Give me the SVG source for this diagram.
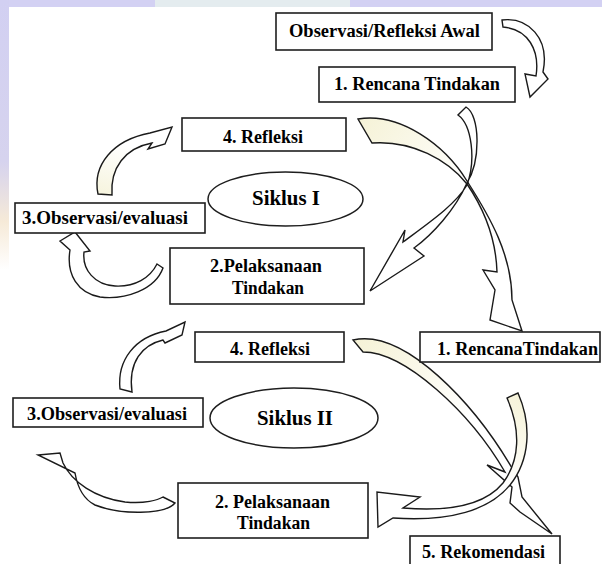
<svg xmlns="http://www.w3.org/2000/svg" width="602" height="564" viewBox="0 0 602 564">
<defs>
<linearGradient id="gTL" x1="0" y1="0" x2="0.5" y2="0.5"><stop offset="0" stop-color="#f5f2d6"/><stop offset="1" stop-color="#ffffff"/></linearGradient>
<linearGradient id="gTR" x1="1" y1="0" x2="0.6" y2="0.5"><stop offset="0" stop-color="#f5f2d6"/><stop offset="1" stop-color="#ffffff"/></linearGradient>
<linearGradient id="gBL" x1="0.3" y1="1" x2="0.5" y2="0.3"><stop offset="0" stop-color="#f7f5e0"/><stop offset="1" stop-color="#ffffff"/></linearGradient>
<linearGradient id="side" x1="0" y1="0" x2="0" y2="1"><stop offset="0" stop-color="#d2d0f2"/><stop offset="0.6" stop-color="#d6d3ee"/><stop offset="0.82" stop-color="#f6ead8"/><stop offset="1" stop-color="#ffffff"/></linearGradient>
</defs>
<style>
.box{fill:#ffffff;stroke:#1e1e1e;stroke-width:1.6}
.ell{fill:#ffffff;stroke:#1e1e1e;stroke-width:1.5}
.t{font-family:"Liberation Serif","Times New Roman",serif;font-weight:bold;font-size:18px;fill:#000000;text-anchor:middle}
.big{font-size:21px}
.arr{stroke:#1a1a1a;stroke-width:1.4;stroke-linejoin:miter;fill:#ffffff}
</style>
<rect x="0" y="0" width="602" height="564" fill="#ffffff"/>
<g id="background">
<rect x="0" y="0" width="602" height="7" fill="#d3d1f3"/>
<rect x="155" y="0" width="195" height="7" fill="#e4ecef"/>
<rect x="0" y="0" width="9" height="270" fill="url(#side)"/>
</g>
<g id="connectors">
<path class="arr" d="M 502,20 C 528,17 550,38 543,72 L 548,79 L 530,97 L 525,74 L 536,76 C 540,50 528,29 503,27 Z"/>
<path class="arr" style="fill:url(#gTL)" d="M 358,119 C 400,112 445,145 467,181 C 490,217 512,255 512,300 L 522,331 L 490,320 L 495,290 L 483,270 L 497,272 C 496,240 486,212 467,184 C 448,160 412,140 372,143 Z"/>
<path class="arr" d="M 466,107 C 480,115 481,160 467,183 C 455,210 432,235 414,248 L 424,256 L 370,291 L 405,230 L 403,242 C 430,222 455,205 467,185 C 476,160 472,125 458,115 Z"/>
<path class="arr" style="fill:url(#gBL)" d="M 98,194 C 92,165 113,140 150,133 L 172,127 L 165,144 L 148,149 L 152,143 C 125,148 110,168 112,195 Z"/>
<path class="arr" d="M 157,264 L 163,268 C 155,290 125,300 100,297 C 78,293 66,275 70,250 L 60,241 L 75,232 L 90,251 L 84,252 C 82,270 95,285 115,286 C 135,287 150,278 157,264 Z"/>
<path class="arr" d="M 120,389 C 117,360 135,337 166,331 L 185,322 L 182,335 L 165,343 L 163,340 C 142,345 128,362 132,392 Z"/>
<path class="arr" d="M 163,497 L 175,503 C 165,515 120,515 95,505 C 85,500 78,490 75,473 L 38,455 L 60,453 L 63,463 C 72,482 95,498 125,502 C 145,504 158,500 163,497 Z"/>
<path class="arr" style="fill:url(#gTL)" d="M 353,340 C 405,328 475,405 512,468 L 518,477 L 522,497 L 552,534 L 520,512 L 510,503 L 512,487 L 487,465 L 505,472 C 470,412 405,352 363,352 Z"/>
<path class="arr" style="fill:url(#gTR)" d="M 518,393 C 532,425 530,460 510,485 C 490,510 450,522 393,518 L 378,527 L 377,492 L 420,497 L 403,508 C 450,512 485,505 503,483 C 520,460 521,430 507,398 Z"/>
</g>
<g id="n-awal"><rect class="box" x="276" y="13" width="216" height="37"/><text class="t" x="384.5" y="37" textLength="191" lengthAdjust="spacingAndGlyphs">Observasi/Refleksi Awal</text></g>
<g id="n-rencana1"><rect class="box" x="319" y="67" width="196" height="35"/><text class="t" x="417" y="90" textLength="166" lengthAdjust="spacingAndGlyphs">1. Rencana Tindakan</text></g>
<g id="n-refleksi1"><rect class="box" x="182" y="118" width="164" height="33"/><text class="t" x="263" y="143" textLength="80" lengthAdjust="spacingAndGlyphs">4. Refleksi</text></g>
<g id="n-siklus1"><ellipse class="ell" cx="285.5" cy="199" rx="77.5" ry="27"/><text class="t big" x="286" y="205" textLength="68" lengthAdjust="spacingAndGlyphs">Siklus I</text></g>
<g id="n-observasi1"><rect class="box" x="15" y="203" width="190" height="30"/><text class="t" x="105" y="224" textLength="166" lengthAdjust="spacingAndGlyphs">3.Observasi/evaluasi</text></g>
<g id="n-pelaksanaan1"><rect class="box" x="170" y="248" width="194" height="56"/><text class="t" x="266" y="272" textLength="112" lengthAdjust="spacingAndGlyphs">2.Pelaksanaan</text><text class="t" x="268" y="294" textLength="72" lengthAdjust="spacingAndGlyphs">Tindakan</text></g>
<g id="n-rencana2"><rect class="box" x="420" y="332" width="180" height="30"/><text class="t" x="517.5" y="355" textLength="161" lengthAdjust="spacingAndGlyphs">1. RencanaTindakan</text></g>
<g id="n-refleksi2"><rect class="box" x="195" y="332" width="149" height="30"/><text class="t" x="270" y="355" textLength="80" lengthAdjust="spacingAndGlyphs">4. Refleksi</text></g>
<g id="n-siklus2"><ellipse class="ell" cx="294" cy="418" rx="84" ry="30"/><text class="t big" x="295" y="425" textLength="76" lengthAdjust="spacingAndGlyphs">Siklus II</text></g>
<g id="n-observasi2"><rect class="box" x="13" y="398" width="190" height="29"/><text class="t" x="107" y="420" textLength="160" lengthAdjust="spacingAndGlyphs">3.Observasi/evaluasi</text></g>
<g id="n-pelaksanaan2"><rect class="box" x="178" y="483" width="190" height="55"/><text class="t" x="272.5" y="508" textLength="115" lengthAdjust="spacingAndGlyphs">2. Pelaksanaan</text><text class="t" x="273.5" y="529" textLength="73" lengthAdjust="spacingAndGlyphs">Tindakan</text></g>
<g id="n-rekomendasi"><rect class="box" x="410" y="536" width="150" height="34"/><text class="t" x="483.5" y="558" textLength="123" lengthAdjust="spacingAndGlyphs">5. Rekomendasi</text></g>
</svg>
